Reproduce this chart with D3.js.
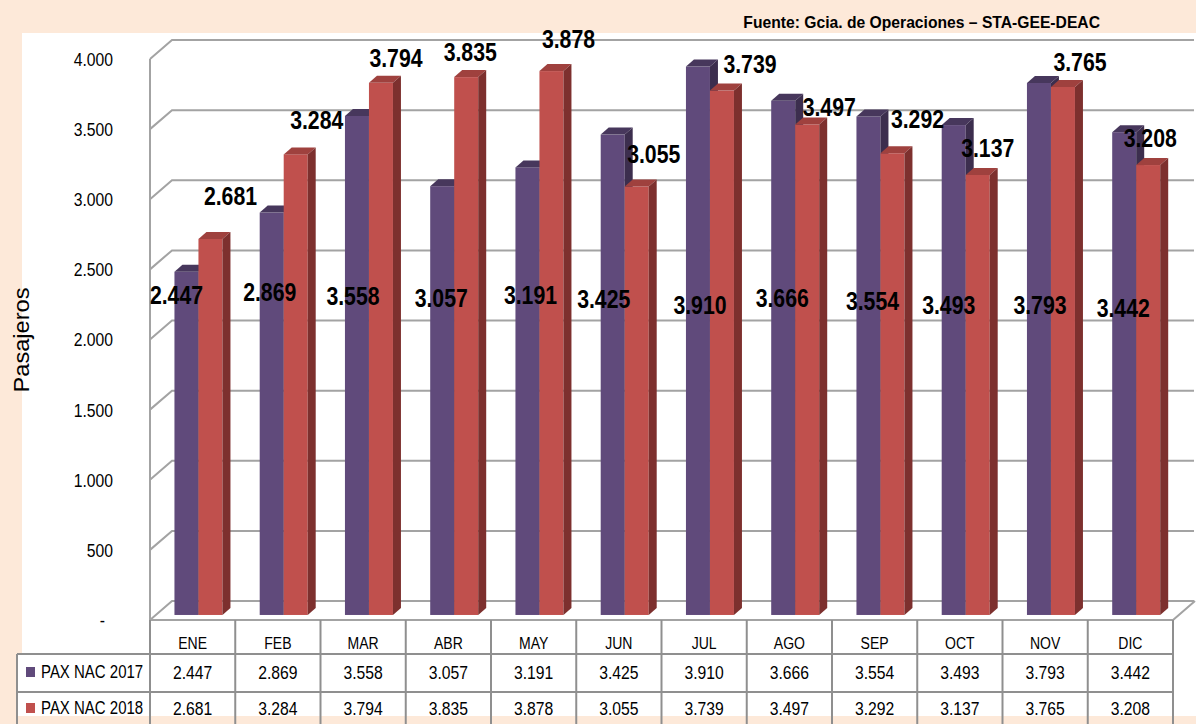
<!DOCTYPE html>
<html>
<head>
<meta charset="utf-8">
<script src="https://cdn.jsdelivr.net/npm/d3@7"></script>
<style>
  html, body { margin: 0; padding: 0; background: #fde9d9; }
  svg { display: block; }
  text { font-family: "Liberation Sans", Arial, sans-serif; fill: #000; }
</style>
</head>
<body>
<div id="chart"></div>
<script>
// data
const months = ["ENE", "FEB", "MAR", "ABR", "MAY", "JUN", "JUL", "AGO", "SEP", "OCT", "NOV", "DIC"];
const pax2017 = [2447, 2869, 3558, 3057, 3191, 3425, 3910, 3666, 3554, 3493, 3793, 3442];
const pax2018 = [2681, 3284, 3794, 3835, 3878, 3055, 3739, 3497, 3292, 3137, 3765, 3208];
const seriesNames = ["PAX NAC 2017", "PAX NAC 2018"];
const yTicks = [0, 500, 1000, 1500, 2000, 2500, 3000, 3500, 4000];

// hand-placed data labels (as in the original workbook)
const lab17dx = [-10, -2, -4, -1, 3, -9, 2, -1, 4, -5, 1, -1];
const lab17y = [295, 292, 296, 298, 295, 299, 305, 298, 301, 305, 305, 308];
const lab18dx = [20, 21, 15, 4, 17, 17, 28, 22, 25, 10, 17, 2];
const lab18dy = [-43, -34, -25, -25, -32, -32, -26, -17, -34, -27, -25, -27];

const W = 1196, H = 724;
const SX = 0.85; // horizontal squeeze of all text, like the source image
const colors = { front: ["#604a7b", "#c0504d"], top: ["#47375c", "#9f413e"], side: ["#3c2e4e", "#7d302e"] };

// 3d geometry
const DX = 22, DY = -19;         // front -> back wall
const t = 0.265;                  // bar front plane depth
const BDX = 8, BDY = -7;          // bar depth

const svg = d3.select("#chart").append("svg")
  .attr("width", W)
  .attr("height", H);

svg.append("rect").attr("width", W).attr("height", H).attr("fill", "#fde9d9");
svg.append("rect").attr("x", 22).attr("y", 33).attr("width", W - 22).attr("height", 716 - 33).attr("fill", "#fff");
svg.append("rect").attr("x", 17).attr("y", 654).attr("width", 10).attr("height", 62).attr("fill", "#fff");

const x = d3.scaleBand().domain(months).range([150, 1173]);
const yF = d3.scaleLinear().domain([0, 4000]).range([620, 59]);
const bw = 24;
const xs = d3.scaleBand().domain([0, 1]).range([0, bw * 2]);
const groupOff = (x.bandwidth() - bw * 2) / 2 + DX * t;
const yBar = v => yF(v) + DY * t;

const loc = d3.formatLocale({ decimal: ",", thousands: ".", grouping: [3], currency: ["", ""] });
const fmt = loc.format(",");

// gridlines on left wall + back wall
const grid = svg.append("g").attr("fill", "none").attr("stroke", "#a3a3a3").attr("stroke-width", 2);
grid.selectAll("path.g").data(yTicks).join("path")
  .attr("class", "g")
  .attr("d", d => `M150,${yF(d)}L${150 + DX},${yF(d) + DY}L1194,${yF(d) + DY}`);
grid.append("path").attr("d", `M150,${yF(4000)}L150,${yF(0)}L1173,${yF(0)}L${1173 + DX},${yF(0) + DY}`);

// bars
const series = [pax2017, pax2018];
const bars = svg.append("g");
months.forEach((m, i) => {
  [0, 1].forEach(s => {
    const v = series[s][i];
    const x0 = x(m) + groupOff + xs(s), x1 = x0 + xs.bandwidth();
    const yt = yBar(v), yb = yBar(0);
    const g = bars.append("g");
    g.append("rect").attr("x", x0).attr("y", yt).attr("width", x1 - x0).attr("height", yb - yt)
      .attr("fill", colors.front[s]);
    g.append("path")
      .attr("d", `M${x0},${yt}L${x0 + BDX},${yt + BDY}L${x1 + BDX},${yt + BDY}L${x1},${yt}Z`)
      .attr("fill", colors.top[s]);
    g.append("path")
      .attr("d", `M${x1},${yt}L${x1 + BDX},${yt + BDY}L${x1 + BDX},${yb + BDY}L${x1},${yb}Z`)
      .attr("fill", colors.side[s]);
  });
});

// y axis labels
const yAxis = d3.axisLeft(yF).tickValues(yTicks).tickSize(0).tickPadding(0)
  .tickFormat(d => d === 0 ? "-" : fmt(d));
const ya = svg.append("g").attr("transform", "translate(113,0)").call(yAxis);
ya.select(".domain").remove();
ya.selectAll("text")
  .attr("font-size", 18.5)
  .attr("font-family", "Liberation Sans, Arial, sans-serif")
  .attr("fill", "#1a1a1a")
  .attr("x", d => d === 0 ? -8 / SX : 0)
  .attr("dy", "0.35em")
  .attr("transform", `scale(${SX},1)`);

// axis title
svg.append("text")
  .attr("transform", `translate(29,340) rotate(-90)`)
  .attr("text-anchor", "middle")
  .attr("font-size", 22)
  .attr("fill", "#1a1a1a")
  .attr("textLength", 105)
  .attr("lengthAdjust", "spacingAndGlyphs")
  .text("Pasajeros");

// data labels
const lbl = svg.append("g").attr("font-weight", "bold").attr("font-size", 25).attr("text-anchor", "middle");
months.forEach((m, i) => {
  const c17 = x(m) + groupOff + xs(0) + bw / 2;
  const c18 = x(m) + groupOff + xs(1) + bw / 2;
  lbl.append("text")
    .attr("transform", `translate(${c17 + lab17dx[i]},${lab17y[i]}) scale(${SX},1)`)
    .attr("dy", "0.35em").text(fmt(pax2017[i]));
  lbl.append("text")
    .attr("transform", `translate(${c18 + lab18dx[i]},${yBar(pax2018[i]) + lab18dy[i]}) scale(${SX},1)`)
    .attr("dy", "0.35em").text(fmt(pax2018[i]));
});

// data table
const tbl = svg.append("g").attr("stroke", "#8f8f8f").attr("stroke-width", 2).attr("fill", "none");
const cols = [150].concat(months.map(m => x(m) + x.bandwidth()));
tbl.selectAll("line.v").data(cols).join("line").attr("class", "v")
  .attr("x1", d => d).attr("x2", d => d).attr("y1", 620).attr("y2", H);
tbl.append("line").attr("x1", 17).attr("x2", 17).attr("y1", 654).attr("y2", H);
[654, 692].forEach(yy => tbl.append("line").attr("x1", 17).attr("x2", 1173).attr("y1", yy).attr("y2", yy));

const tt = svg.append("g").attr("text-anchor", "middle").attr("fill", "#1a1a1a");
months.forEach((m, i) => {
  const cx = x(m) + x.bandwidth() / 2;
  tt.append("text").attr("transform", `translate(${cx},643) scale(${SX},1)`)
    .attr("dy", "0.35em").attr("font-size", 16.5).text(m);
  tt.append("text").attr("transform", `translate(${cx},673) scale(${SX},1)`)
    .attr("dy", "0.35em").attr("font-size", 18.5).text(fmt(pax2017[i]));
  tt.append("text").attr("transform", `translate(${cx},709) scale(${SX},1)`)
    .attr("dy", "0.35em").attr("font-size", 18.5).text(fmt(pax2018[i]));
});

// legend keys in the table
seriesNames.forEach((name, s) => {
  const cy = s === 0 ? 672 : 708;
  svg.append("rect").attr("x", 26).attr("y", cy - 5).attr("width", 9).attr("height", 10)
    .attr("fill", colors.front[s]);
  svg.append("text").attr("transform", `translate(41,${cy}) scale(0.81,1)`)
    .attr("dy", "0.35em").attr("font-size", 18.5).attr("fill", "#1a1a1a").text(name);
});

// source note
svg.append("text")
  .attr("transform", "translate(1100,22) scale(0.98,1)")
  .attr("text-anchor", "end")
  .attr("dy", "0.35em")
  .attr("font-size", 16)
  .attr("font-weight", "bold")
  .text("Fuente: Gcia. de Operaciones \u2013 STA-GEE-DEAC");
</script>
</body>
</html>
